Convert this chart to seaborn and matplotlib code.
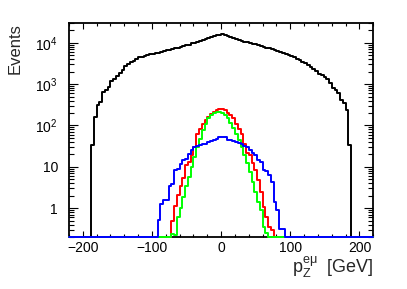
import numpy as np
import pandas as pd
import matplotlib
matplotlib.use("Agg")
import matplotlib.pyplot as plt
import matplotlib.ticker as mticker
import seaborn as sns

# ---- data: histogram of p_Z^{e mu}, 4 GeV bins from -220 to 220 ----
bin_lo, bin_hi, bin_w = -220, 220, 4

# black: non-zero bins from -188 to 188 (left part then right part)
black_left = [33, 160, 320, 360, 630, 710, 830, 1160, 1300, 1550, 1900, 2230,
              2800, 3100, 3400, 3700, 4000, 4400, 4600, 4800, 5000, 5200, 5400,
              5600, 5800, 6000, 6300, 6500, 6800, 7000, 7300, 7600, 7900, 8300,
              8600, 9000, 9600, 10000, 10500, 11000, 11600, 12300, 12900, 13600,
              14300, 15000, 15700]
black_right = [16200, 15300, 14500, 13800, 13000, 12300, 11700, 11200, 10700,
               10300, 9900, 9500, 9100, 8700, 8300, 7900, 7600, 7300, 7000, 6700,
               6300, 6000, 5600, 5300, 5000, 4700, 4400, 4100, 3800, 3500, 3200,
               2900, 2600, 2300, 2050, 1800, 1650, 1450, 1300, 1050, 800, 700,
               600, 420, 340, 230, 33]
black_start = -188

# red: non-zero bins from -72 to 76
red_vals = [0.5, 1.1, 2.1, 3.5, 5.2, 10.8, 13, 19, 30, 63, 80, 107, 134, 162,
            187, 212, 233, 243,
            243, 233, 200, 177, 147, 111, 84, 63, 36, 21.5, 19, 12, 8.2, 4.7,
            2.4, 1.06, 0.6, 0.35, 0.3]
red_start = -72

# green: non-zero bins from -72 to 72
green_vals = [0.24, 0.22, 0.6, 1.0, 1.85, 3.5, 5.6, 9.9, 17, 30, 48, 77, 111,
              147, 177, 200, 212,
              210, 200, 177, 147, 115, 89, 63, 45, 30, 19, 12, 7.5, 4.3, 2.4,
              1.4, 0.88, 0.35, 0.25]
green_start = -72

# blue: non-zero bins from -92 to 92
blue_vals = [0.52, 1.23, 1.54, 1.6, 3.4, 3.9, 8.2, 9.0, 11.9, 14.3, 15.7, 20.8,
             25, 30, 32, 33, 35, 36, 40, 42, 44, 48, 52,
             52, 52, 45, 44, 42, 40, 38, 35, 32.5, 30, 25, 21.5, 19, 14.3, 13,
             8.5, 7.8, 6.2, 4.2, 1.4, 0.9, 0.32, 0.32]
blue_start = -92

x_ticks = [-200, -100, 0, 100, 200]
y_label = "Events"
x_label = r"$\mathregular{p_{Z}^{e\mu}}$  [GeV]"

edges = np.arange(bin_lo, bin_hi + bin_w, bin_w)
centers = edges[:-1] + bin_w / 2.0
ymin, ymax = 0.2, 3.0e4


def full(start, vals):
    out = np.zeros(len(centers))
    i0 = int((start - bin_lo) // bin_w)
    out[i0:i0 + len(vals)] = vals
    return out


series = {
    "black": full(black_start, black_left + black_right),
    "#ff0000": full(red_start, red_vals),
    "#00ff00": full(green_start, green_vals),
    "#0000ff": full(blue_start, blue_vals),
}

sns.set_theme(style="ticks")
plt.rcParams["font.family"] = ["Liberation Sans", "DejaVu Sans"]
plt.rcParams["mathtext.fontset"] = "custom"
plt.rcParams["mathtext.rm"] = "Liberation Sans"
plt.rcParams["mathtext.it"] = "Liberation Sans:italic"
plt.rcParams["mathtext.bf"] = "Liberation Sans:bold"

fig = plt.figure(figsize=(4.07, 2.89), dpi=100)
ax = fig.add_axes([69 / 407, 1 - 237 / 289, (373.3 - 69) / 407, (237 - 23) / 289])

bin_list = [float(e) for e in edges]
for color, vals in series.items():
    df = pd.DataFrame({"x": centers, "w": np.maximum(vals, ymin)})
    sns.histplot(data=df, x="x", weights="w", bins=bin_list, element="step",
                 fill=False, color=color, linewidth=1.4, ax=ax)

for i, art in enumerate(ax.lines + list(ax.collections) + list(ax.patches)):
    art.set_clip_on(False)
    art.set_zorder(3 + i * 0.01)

ax.set_yscale("log")
ax.set_xlim(bin_lo, bin_hi)
ax.set_ylim(ymin, ymax)

ax.set_xticks(x_ticks)
ax.xaxis.set_minor_locator(mticker.MultipleLocator(20))
ax.yaxis.set_major_locator(mticker.FixedLocator([1, 10, 100, 1000, 10000]))
ax.yaxis.set_minor_locator(mticker.LogLocator(base=10, subs=np.arange(2, 10), numticks=50))


def yfmt(v, pos):
    if v == 1:
        return "1"
    if v == 10:
        return "10"
    return r"$\mathregular{10^{%d}}$" % int(round(np.log10(v)))


ax.yaxis.set_major_formatter(mticker.FuncFormatter(yfmt))
ax.yaxis.set_minor_formatter(mticker.NullFormatter())

ax.tick_params(axis="both", which="both", direction="in", top=True, right=True,
               colors="black", width=0.8, labelsize=10)
ax.tick_params(axis="x", which="major", length=4.5, pad=3)
ax.tick_params(axis="x", which="minor", length=2.3)
ax.tick_params(axis="y", which="major", length=6.5, pad=8)
ax.tick_params(axis="y", which="minor", length=3.3)

for s in ax.spines.values():
    s.set_linewidth(1.3)
    s.set_color("black")

ax.set_xlabel(x_label, fontsize=13, loc="right", labelpad=0)
ax.set_ylabel(y_label, fontsize=12, loc="top", labelpad=9)

fig.savefig("out.png", dpi=100)
